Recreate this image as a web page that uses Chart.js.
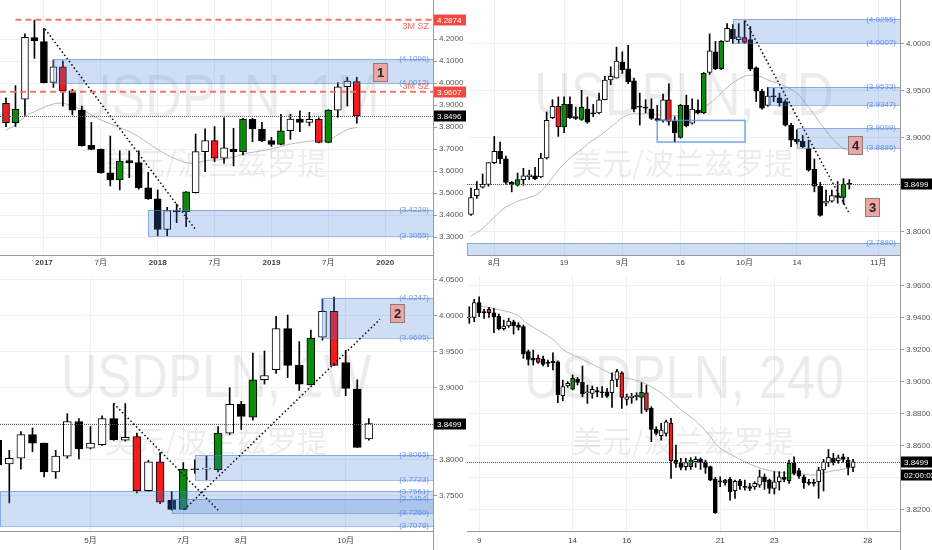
<!DOCTYPE html>
<html>
<head>
<meta charset="utf-8">
<title>USDPLN</title>
<script src="https://cdn.jsdelivr.net/npm/chart.js@4.4.1/dist/chart.umd.min.js"></script>
<style>
  html, body { margin: 0; padding: 0; background: #fff; }
  #wrap { position: relative; width: 932px; height: 550px; overflow: hidden; background: #fff; }
  canvas { position: absolute; }
  .vline { position: absolute; top: 0; width: 1px; height: 550px; background: #9b9b9b; }
</style>
</head>
<body>
<div id="wrap">
  <div class="vline" style="left:433px"></div>
  <div class="vline" style="left:900px"></div>
  <canvas id="monthChart" width="470" height="272" style="left:0;top:0"></canvas>
  <canvas id="dayChart" width="465" height="272" style="left:467px;top:0"></canvas>
  <canvas id="weekChart" width="470" height="275" style="left:0;top:275px"></canvas>
  <canvas id="h4Chart" width="465" height="275" style="left:467px;top:275px"></canvas>
</div>
<script>
const PAIR_NAME = '美元/波兰兹罗提';

// ---- Monthly (top left), first bar = 2016-09 ----
const monthOpen = [3.908,3.820,3.926,4.206,4.188,4.003,4.073,3.964,3.877,3.717, 3.698,3.592,3.559,3.647,3.638,3.524,3.473,3.335,3.420,3.414, 3.502,3.688,3.738,3.658,3.700,3.688,3.836,3.791,3.738,3.721, 3.783,3.836,3.821,3.835,3.730,3.877,3.983,4.006];
const monthHigh = [3.933,3.988,4.223,4.286,4.248,4.105,4.100,3.971,3.895,3.821, 3.700,3.759,3.692,3.692,3.692,3.594,3.514,3.435,3.450,3.507, 3.768,3.792,3.802,3.842,3.794,3.839,3.839,3.821,3.753,3.858, 3.858,3.873,3.867,3.842,3.879,4.002,4.026,4.026];
const monthLow = [3.802,3.802,3.853,4.112,4.000,3.980,3.895,3.855,3.713,3.696, 3.590,3.532,3.514,3.570,3.517,3.471,3.306,3.306,3.365,3.347, 3.500,3.597,3.642,3.635,3.623,3.673,3.733,3.733,3.712,3.719, 3.744,3.779,3.805,3.728,3.728,3.844,3.895,3.817];
const monthClose = [3.820,3.882,4.208,4.192,4.002,4.073,3.965,3.877,3.715,3.698, 3.592,3.559,3.645,3.638,3.524,3.473,3.335,3.420,3.414,3.505, 3.688,3.738,3.658,3.705,3.688,3.836,3.791,3.738,3.721,3.783, 3.836,3.821,3.835,3.730,3.877,3.983,4.009,3.850];
const monthColors = 'rgwkkwrkkkkkgkkkkwkgwwrwkgkkkgwkwrgwwr'.split('');
const monthMa = [3.786,3.809,3.847,3.870,3.889,3.905,3.908,3.895,3.880,3.855, 3.832,3.814,3.797,3.779,3.756,3.726,3.698,3.673,3.653,3.638, 3.635,3.647,3.650,3.653,3.662,3.677,3.685,3.692,3.700,3.711, 3.723,3.729,3.736,3.738,3.741,3.764,3.789,3.798];
const monthTicks = [4, 10, 16, 22, 28, 34, 40];
const monthTickLabels = ['2017', '7月', '2018', '7月', '2019', '7月', '2020'];
const monthPriceTicks = [3.3, 3.4, 3.5, 3.6, 3.7, 3.8, 3.9, 4.0, 4.1, 4.2];
const monthZones = [{ from: 5, hi: 4.1096, lo: 4.0012 }, { from: 15, hi: 3.4229, lo: 3.3055 }];
const monthLevels = [4.2874, 3.9607];
const monthTrend = [4.12, 4.245, 19.96, 3.336];

// ---- Daily (top right), first bar = 2019-07-26 ----
const dayOpen = [3.818,3.838,3.847,3.850,3.873,3.885,3.877,3.852,3.849,3.855, 3.858,3.859,3.858,3.878,3.921,3.933,3.911,3.935,3.922,3.919, 3.930,3.926,3.926,3.940,3.961,3.963,3.980,3.973,3.960,3.933, 3.932,3.930,3.920,3.918,3.940,3.917,3.900,3.934,3.915,3.929, 3.926,3.969,3.991,3.973,4.002,4.015,4.004,4.006,4.004,3.974, 3.949,3.934,3.944,3.942,3.938,3.913,3.898,3.896,3.888,3.866, 3.848,3.830,3.832,3.838,3.836,3.851];
const dayHigh = [3.846,3.853,3.861,3.873,3.901,3.895,3.880,3.853,3.862,3.867, 3.865,3.868,3.883,3.927,3.940,3.943,3.943,3.943,3.932,3.950, 3.943,3.935,3.947,3.965,3.975,3.996,3.991,3.998,3.963,3.947, 3.940,3.941,3.934,3.946,3.957,3.922,3.935,3.945,3.941,3.940, 3.969,4.010,4.002,4.003,4.021,4.020,4.021,4.024,4.018,3.975, 3.951,3.953,3.952,3.947,3.940,3.915,3.908,3.902,3.897,3.877, 3.852,3.844,3.844,3.853,3.856,3.855];
const dayLow = [3.817,3.835,3.846,3.848,3.872,3.872,3.850,3.842,3.848,3.849, 3.855,3.855,3.857,3.877,3.920,3.901,3.905,3.920,3.919,3.918, 3.915,3.922,3.925,3.940,3.956,3.963,3.968,3.957,3.927,3.913, 3.926,3.919,3.917,3.916,3.913,3.895,3.899,3.911,3.914,3.925, 3.925,3.967,3.972,3.972,4.002,4.000,4.000,4.000,3.971,3.938, 3.930,3.933,3.938,3.933,3.912,3.890,3.893,3.889,3.864,3.842, 3.816,3.827,3.831,3.830,3.829,3.845];
const dayClose = [3.836,3.845,3.850,3.873,3.885,3.877,3.852,3.850,3.855,3.859, 3.860,3.856,3.878,3.918,3.933,3.911,3.935,3.921,3.920,3.932, 3.916,3.925,3.940,3.961,3.965,3.981,3.972,3.959,3.930,3.932, 3.931,3.920,3.918,3.940,3.917,3.905,3.934,3.912,3.930,3.926, 3.968,3.992,3.973,4.002,4.016,4.005,4.007,4.001,3.973,3.949, 3.931,3.944,3.943,3.937,3.913,3.897,3.895,3.890,3.865,3.848, 3.817,3.832,3.838,3.836,3.850,3.850];
const dayColors = ('wwwwwkkkgw' + 'wkwwwrgkkg' + 'kkwwwwkkkk' + 'kkkwrkgkwk' + 'gwkgwkwrkk' + 'kwkkkkkkkk' + 'kwwkgk').split('');
const dayMa = [3.795,3.799,3.803,3.809,3.815,3.821,3.826,3.829,3.832,3.834, 3.836,3.838,3.842,3.849,3.857,3.865,3.872,3.878,3.883,3.887, 3.893,3.897,3.901,3.906,3.911,3.916,3.921,3.924,3.925,3.925, 3.925,3.925,3.924,3.924,3.924,3.923,3.923,3.923,3.924,3.927, 3.932,3.936,3.941,3.947,3.953,3.958,3.962,3.965,3.966,3.966, 3.964,3.961,3.959,3.957,3.954,3.951,3.947,3.940,3.932,3.924, 3.915,3.907,3.899,3.893,3.888,3.886];
const dayTicks = [4, 16, 26, 36, 47, 56, 70];
const dayTickLabels = ['8月', '19', '9月', '16', '10月', '14', '11月'];
const dayPriceTicks = [3.80, 3.85, 3.90, 3.95, 4.00];
const dayZones = [{ from: 45, hi: 4.0255, lo: 4.0007 }, { from: 51, hi: 3.9533, lo: 3.9347 }, { from: 56, hi: 3.9099, lo: 3.8886 }, { from: null, hi: 3.7880, lo: null }];
const dayFrame = { x0: 32, x1: 47.1, hi: 3.918, lo: 3.895 };
const dayTrend = [47.1, 4.024, 65, 3.819];

// ---- Weekly (bottom left) ----
const weekOpen = [3.827,3.794,3.802,3.835,3.823,3.783,3.805,3.853,3.816,3.821, 3.857,3.827,3.832,3.757,3.797,3.744,3.731,3.787,3.787,3.786, 3.837,3.877,3.859,3.911,3.925,3.982,3.931,3.904,3.970,4.006, 3.935,3.898,3.829];
const weekHigh = [3.829,3.813,3.839,3.844,3.823,3.813,3.864,3.857,3.846,3.861, 3.878,3.878,3.837,3.799,3.810,3.756,3.796,3.800,3.805,3.846, 3.900,3.881,3.948,3.951,3.999,4.001,3.964,3.980,4.023,4.026, 3.952,3.911,3.857];
const weekLow = [3.791,3.740,3.787,3.811,3.776,3.774,3.802,3.801,3.815,3.820, 3.827,3.826,3.754,3.756,3.739,3.730,3.731,3.781,3.772,3.783, 3.835,3.842,3.855,3.905,3.920,3.914,3.896,3.904,3.966,3.931, 3.889,3.817,3.827];
const weekClose = [3.793,3.802,3.835,3.823,3.783,3.805,3.853,3.815,3.823,3.857, 3.828,3.831,3.757,3.797,3.741,3.731,3.787,3.786,3.788,3.837, 3.877,3.860,3.911,3.917,3.982,3.931,3.905,3.969,4.006,3.931, 3.899,3.817,3.850];
const weekColors = ('kwwkkwwkww' + 'kwrwrkgkwg' + 'wkgwwkkgwr' + 'kkw').split('');
const weekTicks = [8, 16, 21, 30];
const weekTickLabels = ['5月', '7月', '8月', '10月'];
const weekPriceTicks = [3.75, 3.80, 3.85, 3.90, 3.95, 4.00, 4.05];
const weekZones = [{ from: 28, hi: 4.0247, lo: 3.9695 }, { from: 17, hi: 3.8065, lo: 3.7723 }, { from: null, hi: 3.7561, lo: 3.7076 }, { from: 15, hi: 3.7454, lo: 3.7260 }];
const weekTrendDown = [10, 3.878, 19, 3.730];
const weekTrendUp = [16.1, 3.731, 32.96, 3.995];

// ---- 4 hour (bottom right) ----
const h4Open = [3.9400,3.9402,3.9494,3.9438,3.9452,3.9431,3.9410,3.9331,3.9348,3.9375, 3.9354,3.9344,3.9188,3.9146,3.9146,3.9142,3.9123,3.9129,3.9125,3.8913, 3.8973,3.8954,3.9017,3.8996,3.8931,3.8927,3.8944,3.8937,3.8937,3.8931, 3.9015,3.9056,3.8890,3.8900,3.8906,3.8902,3.8931,3.8833,3.8702,3.8663, 3.8677,3.8740,3.8510,3.8494,3.8469,3.8469,3.8500,3.8515,3.8500,3.8469, 3.8390,3.8381,3.8369,3.8390,3.8319,3.8381,3.8348,3.8344,3.8344,3.8354, 3.8406,3.8385,3.8333,3.8375,3.8402,3.8381,3.8494,3.8444,3.8406,3.8373, 3.8373,3.8375,3.8448,3.8494,3.8521,3.8506,3.8531,3.8510,3.8465];
const h4High = [3.9469,3.9515,3.9531,3.9452,3.9465,3.9458,3.9423,3.9385,3.9396,3.9385, 3.9369,3.9354,3.9198,3.9198,3.9167,3.9160,3.9135,3.9181,3.9131,3.9010, 3.9000,3.9042,3.9027,3.9098,3.8979,3.8973,3.8965,3.8969,3.8958,3.9056, 3.9077,3.9063,3.8923,3.8927,3.8931,3.8994,3.8979,3.8844,3.8719,3.8740, 3.8760,3.8771,3.8604,3.8521,3.8521,3.8525,3.8531,3.8525,3.8510,3.8473, 3.8402,3.8406,3.8390,3.8402,3.8385,3.8390,3.8385,3.8365,3.8375,3.8448, 3.8423,3.8392,3.8438,3.8438,3.8438,3.8510,3.8531,3.8458,3.8417,3.8390, 3.8390,3.8465,3.8515,3.8577,3.8552,3.8542,3.8548,3.8527,3.8515];
const h4Low = [3.9365,3.9375,3.9406,3.9396,3.9402,3.9306,3.9323,3.9323,3.9340,3.9298, 3.9323,3.9146,3.9104,3.9104,3.9115,3.9098,3.9094,3.9073,3.8869,3.8881, 3.8965,3.8948,3.8979,3.8906,3.8865,3.8896,3.8906,3.8902,3.8902,3.8840, 3.8969,3.8833,3.8854,3.8865,3.8885,3.8802,3.8813,3.8625,3.8667,3.8635, 3.8660,3.8396,3.8465,3.8448,3.8448,3.8452,3.8465,3.8452,3.8427,3.8381, 3.8177,3.8344,3.8354,3.8260,3.8271,3.8327,3.8323,3.8319,3.8327,3.8340, 3.8327,3.8302,3.8298,3.8323,3.8375,3.8365,3.8417,3.8396,3.8333,3.8354, 3.8348,3.8271,3.8317,3.8469,3.8479,3.8490,3.8494,3.8417,3.8438];
const h4Close = [3.9406,3.9494,3.9431,3.9431,3.9431,3.9406,3.9331,3.9348,3.9379,3.9348, 3.9340,3.9173,3.9140,3.9135,3.9121,3.9108,3.9115,3.9119,3.8917,3.8969, 3.8990,3.9021,3.8996,3.8923,3.8937,3.8952,3.8935,3.8931,3.8910,3.9010, 3.9063,3.8902,3.8906,3.8910,3.8915,3.8933,3.8823,3.8702,3.8677,3.8698, 3.8750,3.8506,3.8490,3.8465,3.8494,3.8510,3.8515,3.8494,3.8465,3.8385, 3.8181,3.8373,3.8385,3.8313,3.8377,3.8348,3.8340,3.8333,3.8365,3.8406, 3.8375,3.8333,3.8375,3.8406,3.8390,3.8490,3.8427,3.8410,3.8369,3.8365, 3.8365,3.8448,3.8500,3.8527,3.8494,3.8525,3.8515,3.8465,3.8499];
const h4Colors = ('wwkkrkkwwk' + 'kkkkrkkkkw' + 'wgkkwwkkkw' + 'wrwwwgrkkw' + 'wrkkwgwkkk' + 'kkgkwkkkww' + 'kkwwkgkkkk' + 'kwwwkwkkw').split('');
const h4MaX = [0.8, 4.9, 9.7, 11.7, 14.5, 17.2, 19.2, 22.6, 26.0, 29.4, 32.2, 34.9, 37.6, 40.4, 43.1, 45.8, 48.5, 50.6, 53.3, 56.7, 59.4, 62.2, 64.9, 67.6, 70.3, 73.1, 75.8, 78.5];
const h4MaY = [3.9479, 3.9458, 3.9417, 3.9365, 3.9313, 3.9260, 3.9198, 3.9146, 3.9094, 3.9042, 3.9021, 3.9000, 3.8958, 3.8896, 3.8823, 3.8760, 3.8677, 3.8594, 3.8542, 3.8490, 3.8458, 3.8438, 3.8427, 3.8423, 3.8417, 3.8438, 3.8452, 3.8469];
const h4Ticks = [2, 21, 32, 51, 62, 81];
const h4TickLabels = ['9', '14', '16', '21', '23', '28'];
const h4PriceTicks = [3.82, 3.84, 3.86, 3.88, 3.90, 3.92, 3.94, 3.96];

const FONT = '"Liberation Sans", Arial, "Noto Sans CJK SC", sans-serif';
const GRID = '#edf1f7';
const AXIS = '#9b9b9b';
const ZONE_FILL = 'rgba(66,122,214,0.25)';
const ZONE_EDGE = 'rgba(66,122,214,0.5)';
const BODY = { w: '#ffffff', k: '#000000', r: '#f21c1c', g: '#0c8a0c' };

function candleSets(p) {
    const bodies = p.open.map((o, i) => ({ x: i, y: [Math.min(o, p.close[i]), Math.max(o, p.close[i])] }));
    const wicks = p.open.map((o, i) => ({ x: i, y: [p.low[i], p.high[i]] }));
    return [
        { type: 'bar', data: bodies, backgroundColor: p.colors.map(c => BODY[c]), borderColor: '#000', borderWidth: 1, borderSkipped: false, barThickness: p.body, minBarLength: 1, grouped: false },
        { type: 'bar', data: wicks, backgroundColor: '#000', borderWidth: 0, barThickness: 1, grouped: false },
        { type: 'line', data: p.ma, borderColor: '#b9b9b9', borderWidth: 1, pointRadius: 0, tension: 0.35 }
    ];
}

function clipArea(ctx, a) {
    ctx.beginPath();
    ctx.rect(a.left, a.top, a.right - a.left, a.bottom - a.top);
    ctx.clip();
}

function overlay(p) {
    return {
        id: 'overlay',
        beforeDatasetsDraw(chart) {
            // watermark
            const { ctx, chartArea: a } = chart;
            const wm = p.wm;
            ctx.save();
            clipArea(ctx, a);
            ctx.fillStyle = 'rgba(0,0,0,0.075)';
            ctx.textAlign = 'center';
            ctx.save();
            ctx.translate(wm.x, wm.y);
            ctx.scale(0.82, 1);
            ctx.font = '62px ' + FONT;
            ctx.fillText(wm.text, 0, 0);
            ctx.restore();
            ctx.textBaseline = 'middle';
            ctx.font = '30px "Noto Sans CJK SC", sans-serif';
            ctx.fillText(PAIR_NAME, wm.cx, wm.cy);
            ctx.restore();
        },
        afterDatasetsDraw(chart) {
            const { ctx, chartArea: a } = chart;
            const px = v => chart.scales.x.getPixelForValue(v);
            const py = v => chart.scales.y.getPixelForValue(v);
            ctx.save();
            clipArea(ctx, a);

            // zones extended to the right
            p.zones.forEach(z => {
                const x0 = Math.round(z.from === null ? a.left : px(z.from));
                const y0 = Math.round(py(z.hi));
                const y1 = z.lo === null ? a.bottom + 3 : Math.round(py(z.lo));
                ctx.fillStyle = ZONE_FILL;
                ctx.fillRect(x0, y0, a.right - x0 + 2, y1 - y0);
                ctx.strokeStyle = ZONE_EDGE;
                ctx.lineWidth = 1;
                ctx.strokeRect(x0 + 0.5, y0 + 0.5, a.right - x0 + 2, y1 - y0);
            });

            (p.frames || []).forEach(f => {
                ctx.strokeStyle = 'rgba(80,145,230,0.8)';
                ctx.lineWidth = 1.5;
                ctx.strokeRect(px(f.x0), py(f.hi), px(f.x1) - px(f.x0), py(f.lo) - py(f.hi));
            });

            // 3M support/resistance levels
            ctx.setLineDash([6, 4]);
            ctx.strokeStyle = '#f4756d';
            ctx.lineWidth = 2;
            (p.levels || []).forEach(l => {
                const y = py(l.value);
                ctx.beginPath();
                ctx.moveTo(l.from === null ? a.left : px(l.from), y);
                ctx.lineTo(a.right, y);
                ctx.stroke();
            });

            // last price
            ctx.setLineDash([1, 1]);
            ctx.strokeStyle = '#555';
            ctx.lineWidth = 1;
            const yl = Math.round(py(p.last)) + 0.5;
            ctx.beginPath();
            ctx.moveTo(a.left, yl);
            ctx.lineTo(a.right, yl);
            ctx.stroke();

            // trend lines
            ctx.setLineDash([1.5, 2.5]);
            ctx.strokeStyle = '#111';
            ctx.lineWidth = 1.6;
            p.trends.forEach(t => {
                ctx.beginPath();
                ctx.moveTo(px(t[0]), py(t[1]));
                ctx.lineTo(px(t[2]), py(t[3]));
                ctx.stroke();
            });
            ctx.setLineDash([]);
            ctx.restore();

            // captions
            ctx.save();
            ctx.font = '8px ' + FONT;
            ctx.textAlign = 'right';
            ctx.textBaseline = 'middle';
            ctx.fillStyle = 'rgba(85,135,225,0.85)';
            p.zones.forEach(z => {
                ctx.fillText('(' + z.hi.toFixed(4) + ')', a.right - 4, py(z.hi));
                if (z.lo !== null) ctx.fillText('(' + z.lo.toFixed(4) + ')', a.right - 4, py(z.lo));
            });
            ctx.font = '9px ' + FONT;
            ctx.fillStyle = '#f0665e';
            (p.levels || []).forEach(l => ctx.fillText(l.text, a.right - 4, py(l.value) + l.dy));

            p.marks.forEach(m => {
                const cx = Math.round(px(m.x)), cy = Math.round(py(m.y));
                ctx.fillStyle = '#eca5a5';
                ctx.fillRect(cx - 7, cy - 9, 14, 18);
                ctx.strokeStyle = '#8f7a7a';
                ctx.lineWidth = 1;
                ctx.strokeRect(cx - 6.5, cy - 8.5, 14, 18);
                ctx.fillStyle = '#262626';
                ctx.font = 'bold 13px ' + FONT;
                ctx.textAlign = 'center';
                ctx.fillText(m.text, cx + 0.5, cy + 1);
            });
            ctx.restore();
        },
        afterDraw(chart) {
            // price tags on the axis
            const { ctx, chartArea: a } = chart;
            ctx.save();
            ctx.font = '8px ' + FONT;
            ctx.textBaseline = 'middle';
            ctx.textAlign = 'left';
            p.tags.forEach(t => {
                const y = Math.round(chart.scales.y.getPixelForValue(t.value)) + (t.dy || 0);
                ctx.fillStyle = t.bg;
                ctx.fillRect(a.right + 1, y - 5.5, 32, 11);
                ctx.fillStyle = '#fff';
                ctx.fillText(t.text, a.right + 4, y + 0.5);
            });
            ctx.restore();
        }
    };
}

function buildPanel(id, p) {
    return new Chart(document.getElementById(id), {
        type: 'bar',
        data: { datasets: candleSets(p) },
        options: {
            responsive: false,
            animation: false,
            devicePixelRatio: 1,
            events: [],
            layout: { padding: 0 },
            plugins: { legend: { display: false }, tooltip: { enabled: false } },
            scales: {
                x: {
                    type: 'linear', min: p.xMin, max: p.xMax, offset: false,
                    grid: { color: GRID, drawTicks: false, offset: false },
                    border: { color: AXIS },
                    ticks: {
                        color: '#444', padding: p.xPad, maxRotation: 0, autoSkip: false,
                        font: c => ({ family: FONT, size: 8, weight: (c.tick && (p.bold || []).includes(c.tick.value)) ? 'bold' : 'normal' }),
                        callback: v => p.xLabels[p.xTicks.indexOf(v)]
                    },
                    afterBuildTicks: s => { s.ticks = p.xTicks.map(v => ({ value: v })); },
                    afterFit: s => { s.height = p.xh; s.paddingLeft = 0; s.paddingRight = 0; }
                },
                y: {
                    type: 'linear', position: 'right', min: p.yMin, max: p.yMax, beginAtZero: false,
                    grid: { color: GRID, tickLength: 4, tickColor: AXIS },
                    border: { color: AXIS },
                    ticks: { color: '#555', padding: 2, font: { family: FONT, size: 8 }, callback: v => v.toFixed(4) },
                    afterBuildTicks: s => { s.ticks = p.yTicks.map(v => ({ value: v })); },
                    afterFit: s => { s.width = p.yw; s.paddingTop = 0; s.paddingBottom = 0; }
                }
            }
        },
        plugins: [overlay(p)]
    });
}

buildPanel('monthChart', {
    open: monthOpen, high: monthHigh, low: monthLow, close: monthClose, colors: monthColors,
    ma: monthMa.map((v, i) => ({ x: i, y: v })), body: 7,
    xMin: -0.633, xMax: 45.04, yMin: 3.2182, yMax: 4.3773, yw: 37, xh: 17, xPad: 3,
    xTicks: monthTicks, xLabels: monthTickLabels, bold: [4, 16, 28, 40], yTicks: monthPriceTicks,
    zones: monthZones,
    levels: [{ value: monthLevels[0], from: 1, text: '3M SZ', dy: 7 }, { value: monthLevels[1], from: null, text: '3M SZ', dy: -5 }],
    last: 3.8496, trends: [monthTrend],
    marks: [{ x: 39.44, y: 4.05, text: '1' }],
    tags: [
        { value: monthLevels[0], text: '4.2874', bg: '#f24a42' },
        { value: monthLevels[1], text: '3.9607', bg: '#f24a42' },
        { value: 3.8496, text: '3.8496', bg: '#000' }
    ],
    wm: { text: 'USDPLN, 1M', x: 227, y: 117, cx: 216, cy: 163 }
});

buildPanel('dayChart', {
    open: dayOpen, high: dayHigh, low: dayLow, close: dayClose, colors: dayColors,
    ma: dayMa.map((v, i) => ({ x: i, y: v })), body: 5,
    xMin: -0.687, xMax: 73.71, yMin: 3.7748, yMax: 4.0461, yw: 32, xh: 17, xPad: 3,
    xTicks: dayTicks, xLabels: dayTickLabels, yTicks: dayPriceTicks,
    zones: dayZones, frames: [dayFrame],
    last: 3.8499, trends: [dayTrend],
    marks: [{ x: 65.9, y: 3.8918, text: '4' }, { x: 68.9, y: 3.8255, text: '3' }],
    tags: [{ value: 3.8499, text: '3.8499', bg: '#000' }],
    wm: { text: 'USDPLN, 1D', x: 217, y: 115, cx: 216, cy: 163 }
});

buildPanel('weekChart', {
    open: weekOpen, high: weekHigh, low: weekLow, close: weekClose, colors: weekColors,
    ma: [], body: 8,
    xMin: 0.198, xMax: 37.53, yMin: 3.7010, yMax: 4.0565, yw: 37, xh: 19, xPad: 5,
    xTicks: weekTicks, xLabels: weekTickLabels, yTicks: weekPriceTicks,
    zones: weekZones,
    last: 3.8499, trends: [weekTrendDown, weekTrendUp],
    marks: [{ x: 34.4, y: 4.0044, text: '2' }],
    tags: [{ value: 3.8499, text: '3.8499', bg: '#000' }],
    wm: { text: 'USDPLN, 1W', x: 216, y: 122, cx: 216, cy: 166 }
});

buildPanel('h4Chart', {
    open: h4Open, high: h4High, low: h4Low, close: h4Close, colors: h4Colors,
    ma: h4MaX.map((x, i) => ({ x: x, y: h4MaY[i] })), body: 4,
    xMin: -0.467, xMax: 87.54, yMin: 3.8067, yMax: 3.9667, yw: 32, xh: 19, xPad: 5,
    xTicks: h4Ticks, xLabels: h4TickLabels, yTicks: h4PriceTicks,
    zones: [],
    last: 3.8499, trends: [],
    marks: [],
    tags: [{ value: 3.8499, text: '3.8499', bg: '#000' }, { value: 3.8499, dy: 13, text: '02:00:02', bg: '#000' }],
    wm: { text: 'USDPLN, 240', x: 217, y: 123, cx: 216, cy: 166 }
});
</script>
</body>
</html>
